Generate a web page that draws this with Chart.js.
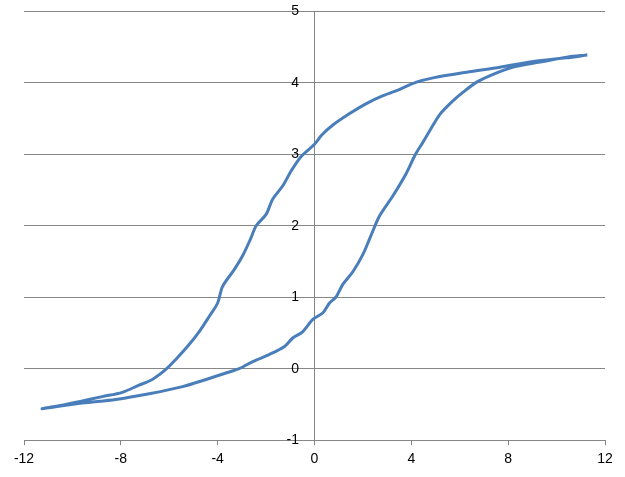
<!DOCTYPE html>
<html>
<head>
<meta charset="utf-8">
<script src="https://cdn.jsdelivr.net/npm/chart.js@4"></script>
<style>
  html, body { margin: 0; padding: 0; background: #fff; }
  #wrap { width: 625px; height: 477px; }
</style>
</head>
<body>
<div id="wrap"><canvas id="loop"></canvas></div>
<script>
// descending branch (right to left)
var upperX = [11.27, 10.4, 9.04, 7.66, 6.28, 4.90, 4.21, 3.52, 2.83, 2.14, 1.45, 0.76, 0.3, 0.0, -0.55, -0.96, -1.31, -1.73, -2.0, -2.41, -2.65, -2.97, -3.31, -3.80, -4.0, -4.35, -4.76, -5.25, -5.73, -6.14, -6.70, -7.25, -7.94, -8.77, -9.59, -10.28, -11.25];
var upperY = [4.39, 4.35, 4.30, 4.22, 4.15, 4.07, 4.01, 3.91, 3.82, 3.71, 3.57, 3.41, 3.27, 3.14, 2.97, 2.77, 2.56, 2.37, 2.16, 2.0, 1.81, 1.58, 1.39, 1.15, 0.92, 0.73, 0.52, 0.31, 0.13, -0.01, -0.15, -0.23, -0.33, -0.39, -0.45, -0.50, -0.56];
// ascending branch (left to right)
var lowerX = [-11.25, -9.59, -8.21, -6.83, -5.45, -4.48, -3.66, -3.11, -2.55, -1.86, -1.24, -0.90, -0.48, -0.07, 0.34, 0.62, 0.90, 1.17, 1.59, 2.0, 2.28, 2.69, 3.24, 3.80, 4.14, 4.48, 4.76, 5.18, 5.66, 6.14, 6.70, 7.38, 8.21, 9.32, 10.42, 11.27];
var lowerY = [-0.56, -0.48, -0.43, -0.35, -0.25, -0.15, -0.06, 0.0, 0.10, 0.20, 0.31, 0.43, 0.52, 0.69, 0.78, 0.92, 1.01, 1.18, 1.36, 1.60, 1.82, 2.14, 2.42, 2.74, 2.98, 3.17, 3.33, 3.56, 3.73, 3.87, 4.01, 4.12, 4.22, 4.29, 4.36, 4.39];

var xTicks = [-12, -8, -4, 0, 4, 8, 12];
var yTicks = [-1, 0, 1, 2, 3, 4, 5];

var points = [];
for (var i = 0; i < upperX.length; i++) points.push({x: upperX[i], y: upperY[i]});
for (var j = 1; j < lowerX.length; j++) points.push({x: lowerX[j], y: lowerY[j]});

var axisGray = '#868686';
var labelFont = { family: "'Liberation Sans', Arial, sans-serif", size: 14 };
var ctx = document.getElementById('loop').getContext('2d');
var chart = new Chart(ctx, {
    type: 'scatter',
    data: {
        datasets: [{
            data: points,
            showLine: true,
            borderColor: '#4a7ebb',
            borderWidth: 3,
            pointRadius: 0,
            tension: 0.3,
            fill: false
        }]
    },
    options: {
        responsive: true,
        maintainAspectRatio: false,
        animation: false,
        layout: { padding: { left: 24, right: 20, top: 3, bottom: 3 } },
        plugins: {
            legend: { display: false },
            tooltip: { enabled: false }
        },
        scales: {
            x: {
                type: 'linear',
                position: 'bottom',
                min: -12,
                max: 12,
                afterBuildTicks: function (axis) {
                    axis.ticks = xTicks.map(function (v) { return {value: v}; });
                },
                grid: {
                    drawOnChartArea: false,
                    color: axisGray,
                    tickLength: 5
                },
                border: { color: axisGray },
                ticks: {
                    color: '#000',
                    padding: 6,
                    maxRotation: 0,
                    font: labelFont
                }
            },
            y: {
                type: 'linear',
                position: { x: 0 },
                min: -1,
                max: 5,
                afterBuildTicks: function (axis) {
                    axis.ticks = yTicks.map(function (v) { return {value: v}; });
                },
                grid: {
                    color: axisGray,
                    drawTicks: false
                },
                border: { color: axisGray },
                ticks: {
                    color: '#000',
                    font: labelFont,
                    // positioned axis draws labels flush to the line, so pad with spaces
                    callback: function (v) { return v + '    '; }
                }
            }
        }
    }
});
</script>
</body>
</html>
